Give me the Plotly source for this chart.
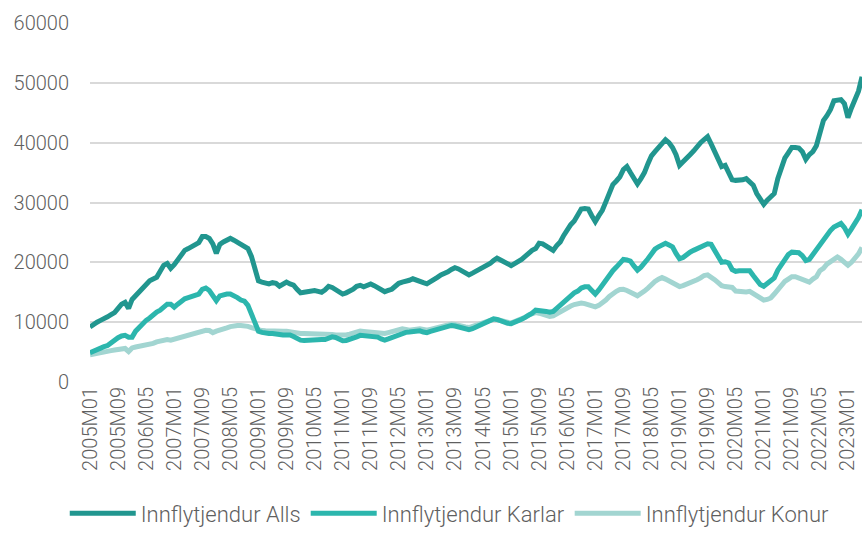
import plotly.graph_objects as go

years = list(range(2005, 2024))
months = [f"{y}M{m:02d}" for y in years for m in range(1, 13)][:221]

alls = [
    9200, 9700, 10000, 10300, 10500, 10900, 11250, 11600, 12300, 13000, 13300, 12300,
    13800, 14400, 15000, 15500, 16300, 16900, 17200, 17500, 18500, 19500, 19800, 19000,
    19600, 20500, 21200, 22000, 22300, 22600, 22900, 23300, 24300, 24300, 24000, 23100,
    21500, 23000, 23400, 23700, 24000, 23700, 23300, 23000, 22700, 22300, 21000, 18500,
    16900, 16700, 16500, 16400, 16600, 16500, 16000, 16300, 16700, 16400, 16200, 15500,
    14900, 15000, 15100, 15200, 15300, 15150, 15000, 15400, 16000, 15800, 15500, 15100,
    14700, 14900, 15100, 15500, 16000, 16160, 15900, 16100, 16370, 16100, 15800, 15400,
    15100, 15300, 15500, 16000, 16500, 16700, 16800, 17000, 17250, 17100, 16900, 16600,
    16400, 16700, 17100, 17500, 17900, 18100, 18400, 18800, 19100, 18900, 18600, 18300,
    17900, 18200, 18500, 18800, 19300, 19600, 19800, 20300, 20700, 20400, 20100, 19700,
    19450, 19800, 20100, 20500, 21000, 21600, 22000, 22300, 23200, 23100, 22800, 22400,
    22000, 22800, 23400, 24500, 25600, 26300, 26900, 27900, 28900, 29000, 28900, 27800,
    26800, 27800, 28700, 30100, 31600, 33000, 33600, 34300, 35500, 36000, 35000, 34000,
    33100, 34000, 35000, 36500, 37800, 38500, 39200, 39900, 40500, 40000, 39200, 38000,
    36200, 36800, 37300, 38000, 38600, 39400, 40000, 40500, 41000, 39800, 38500, 37000,
    36000, 36200, 35000, 33800, 33700, 33700, 33800, 34000, 33500, 32900, 31500, 30500,
    29700, 30400, 30900, 31500, 34000, 36000, 37400, 38300, 39200, 39200, 39100, 38500,
    37200, 38000, 38500, 39500, 42000, 43700, 44500, 45500, 47000, 47200, 47200, 46500,
    44200, 45800, 47500, 48600, 51000,
]

karlar = [
    4900, 5200, 5500, 5700, 5900, 6100, 6600, 7000, 7400, 7700, 7800, 7500,
    7500, 8500, 9200, 9800, 10300, 10700, 11300, 11700, 12000, 12600, 13000, 13000,
    12500, 13000, 13500, 13900, 14100, 14350, 14500, 14700, 15500, 15700, 15300, 14600,
    13600, 14400, 14600, 14700, 14700, 14500, 14100, 13700, 13500, 12800, 11200, 9500,
    8500, 8300, 8150, 8100, 8100, 8100, 7950, 7850, 7900, 7850, 7600, 7300,
    7000, 6950, 7000, 7050, 7150, 7250, 7100, 7100, 7400, 7550, 7450, 7250,
    6900, 6950, 7100, 7250, 7550, 7800, 7750, 7700, 7650, 7600, 7500, 7200,
    7000, 7200, 7450, 7650, 7900, 8200, 8300, 8350, 8400, 8500, 8550, 8350,
    8250, 8450, 8600, 8850, 9050, 9250, 9350, 9450, 9350, 9150, 9000, 8850,
    8750, 8900, 9150, 9450, 9700, 10000, 10250, 10550, 10450, 10200, 10000, 9800,
    9750, 9950, 10200, 10500, 10800, 11100, 11500, 12000, 12000, 11900, 11800, 11650,
    11800, 12300, 12800, 13400, 14000, 14500, 14900, 15200, 15700, 15900, 15900, 15300,
    14700, 15400, 16200, 17000, 18000, 18600, 19200, 19900, 20500, 20400, 20200, 19400,
    18700, 19200, 19800, 20600, 21400, 22200, 22600, 23000, 23200, 22900, 22600, 21500,
    20600, 20800, 21300, 21700, 22000, 22300, 22500, 22700, 23100, 23000, 22000, 20800,
    20000, 20100, 19900, 18800, 18500, 18600, 18650, 18700, 18600, 17800, 17000, 16300,
    16000, 16400, 16800, 17400, 18700, 19700, 20700, 21300, 21700, 21700, 21600, 21100,
    20300, 20500, 21300, 22000, 22900, 23900, 24500, 25300, 25900, 26300, 26500, 25800,
    24700, 25600, 26500, 27500, 28800,
]

konur = [
    4550, 4700, 4850, 4950, 5050, 5200, 5250, 5350, 5450, 5550, 5600, 5100,
    5700, 5850, 5950, 6050, 6150, 6300, 6450, 6700, 6900, 7100, 7100, 7000,
    7150, 7400, 7600, 7750, 7950, 8100, 8250, 8400, 8550, 8650, 8600, 8250,
    8500, 8750, 8900, 9050, 9250, 9400, 9450, 9450, 9450, 9300, 9100, 8900,
    8650, 8600, 8550, 8500, 8450, 8400, 8400, 8500, 8500, 8350, 8200, 8150,
    8100, 8100, 8100, 8100, 8050, 8000, 7980, 8000, 8100, 7950, 7850, 7800,
    7800, 7850, 8000, 8200, 8350, 8500, 8450, 8400, 8350, 8200, 8100, 8050,
    8100, 8250, 8400, 8550, 8800, 8900, 8800, 8650, 8750, 8850, 8900, 8800,
    8650, 8800, 8950, 9100, 9250, 9450, 9600, 9700, 9600, 9400, 9300, 9200,
    9100, 9300, 9500, 9700, 9900, 10150, 10300, 10500, 10450, 10300, 10100, 9900,
    9850, 10100, 10300, 10550, 10800, 11200, 11450, 11600, 11500, 11350, 11150, 10950,
    11050, 11400, 11800, 12100, 12400, 12700, 12950, 13100, 13200, 13100, 12950, 12700,
    12550, 12800, 13200, 13700, 14300, 14800, 15150, 15450, 15500, 15300, 15100, 14700,
    14400, 14750, 15200, 15700, 16300, 16800, 17200, 17450, 17200, 16900, 16700, 16300,
    15950, 16100, 16300, 16600, 16850, 17100, 17400, 17800, 17900, 17600, 17100, 16600,
    16100, 15950, 15950, 15800, 15200, 15100, 15000, 15050, 15150, 14800, 14350, 14000,
    13700, 13800, 14050, 14700, 15450, 16100, 16800, 17200, 17600, 17600, 17400, 17100,
    16800, 16700, 17200, 17600, 18600, 19000, 19700, 20100, 20500, 20900, 20500, 20000,
    19500, 20000, 20700, 21400, 22500,
]

series_names = ["Innflytjendur Alls", "Innflytjendur Karlar", "Innflytjendur Konur"]
series_colors = ["#21968F", "#2CB6AD", "#A2D5D1"]
tick_labels = months[::8]
y_ticks = [0, 10000, 20000, 30000, 40000, 50000, 60000]

FONT = "Roboto, 'Open Sans', sans-serif"
TXT = "#5f5f5f"

fig = go.Figure()
# draw order: Konur underneath Karlar underneath Alls
for name, vals, col in reversed(list(zip(series_names, [alls, karlar, konur], series_colors))):
    fig.add_trace(go.Scatter(
        x=months, y=vals, mode="lines", name=name,
        line=dict(color=col, width=5, shape="linear"),
        hoverinfo="x+y+name",
    ))

fig.update_layout(
    width=862, height=535,
    margin=dict(l=90, r=0, t=23, b=146),
    paper_bgcolor="white", plot_bgcolor="white",
    font=dict(family=FONT, color=TXT, size=19, weight=300),
    showlegend=True,
    legend=dict(
        orientation="h", x=0.466, xanchor="center", y=-0.366, yanchor="middle",
        font=dict(size=22, color=TXT, weight=300), traceorder="reversed",
        itemwidth=66, bgcolor="rgba(0,0,0,0)",
    ),
    xaxis=dict(
        type="category", categoryorder="array", categoryarray=months,
        tickmode="array", tickvals=tick_labels, ticktext=tick_labels,
        tickangle=-90, showgrid=False, zeroline=False, showline=False,
        ticks="", range=[0, len(months) - 1], automargin=False,
        tickfont=dict(size=20, color=TXT, weight=300),
    ),
    yaxis=dict(
        range=[0, 60000], tickvals=y_ticks, ticktext=[str(v) for v in y_ticks],
        showgrid=True, gridcolor="#d9d9d9", gridwidth=1.5,
        zeroline=False, showline=False, ticks="", ticklabelstandoff=20,
        automargin=False,
        tickfont=dict(size=20, color=TXT, weight=300),
    ),
)

fig.write_html(
    "out.html",
    config={"displayModeBar": False},
    post_script="document.body.style.margin='0';document.body.style.overflow='hidden';",
)
